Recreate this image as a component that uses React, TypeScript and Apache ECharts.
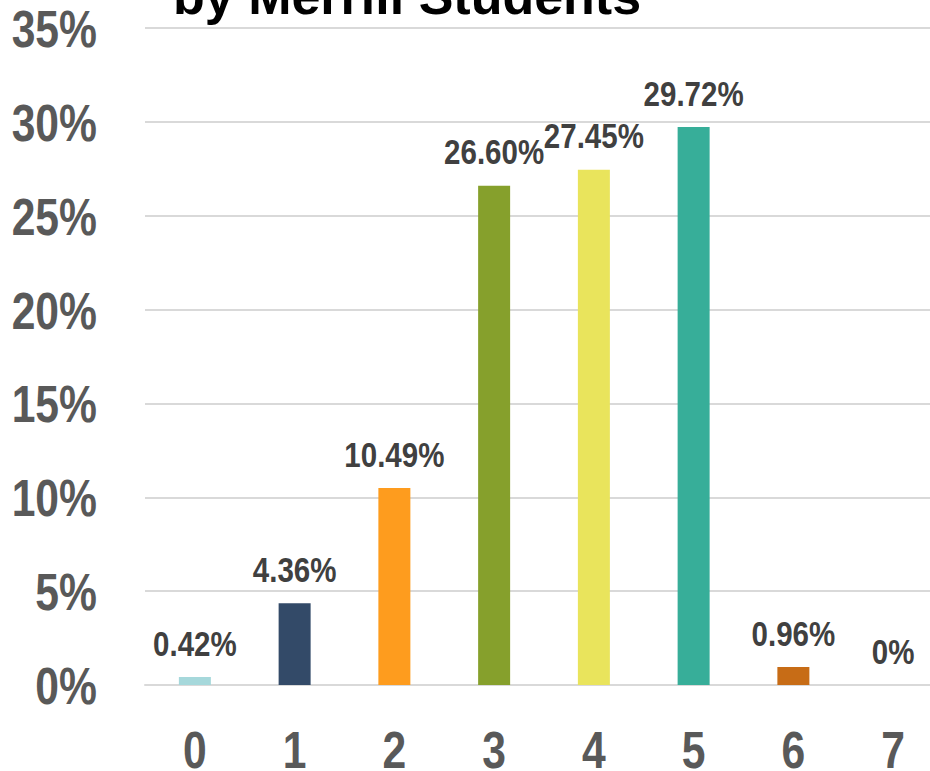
import React, { useEffect, useRef } from "react";
import * as echarts from "echarts";

// Number of courses taken and share of students
const categories = ["0", "1", "2", "3", "4", "5", "6", "7"];
const shares = [0.42, 4.36, 10.49, 26.6, 27.45, 29.72, 0.96, 0];
const barColors = [
  "#a6d8db",
  "#334a68",
  "#fe9c1e",
  "#86a02c",
  "#e9e45c",
  "#37ae99",
  "#c76c16",
  "#7f7f7f",
];
const yTicks = [0, 5, 10, 15, 20, 25, 30, 35];
const titleText = "by Merrill Students";

// Bold sans, squeezed horizontally to a narrow face
const boldFont = (size: number) => `bold ${size}px "Liberation Sans", Arial, sans-serif`;
const NARROW = 0.82;

const pct = (v: number) => (v === 0 ? "0%" : `${v.toFixed(2)}%`);

export default function App() {
  const ref = useRef<HTMLDivElement>(null);

  useEffect(() => {
    if (!ref.current) return;
    const chart = echarts.init(ref.current, undefined, { renderer: "svg" });
    chart.setOption({
      animation: false,
      backgroundColor: "#ffffff",
      grid: {
        left: 145,
        top: 28,
        width: 798,
        height: 657,
        containLabel: false,
        outerBoundsMode: "none",
      },
      graphic: [
        {
          type: "text",
          left: 173,
          top: -30,
          style: {
            text: titleText,
            fill: "#000000",
            font: boldFont(52),
          },
        },
      ],
      xAxis: {
        type: "category",
        data: categories,
        axisTick: { show: false },
        axisLine: { lineStyle: { color: "#d9d9d9", width: 2 } },
        axisLabel: { show: false },
      },
      yAxis: {
        type: "value",
        min: 0,
        max: 35,
        interval: 5,
        axisLine: { show: false },
        axisTick: { show: false },
        splitLine: { lineStyle: { color: "#d9d9d9", width: 2 } },
        axisLabel: { show: false },
      },
      series: [
        {
          type: "bar",
          barWidth: 32,
          data: shares.map((v, i) => ({ value: v, itemStyle: { color: barColors[i] } })),
        },
        {
          // value labels above the bars
          type: "custom",
          clip: false,
          z: 5,
          data: shares.map((v, i) => [i, v]),
          renderItem: (_params: any, api: any) => {
            const p = api.coord([api.value(0), api.value(1)]);
            return {
              type: "text",
              x: p[0],
              y: p[1] - 34,
              scaleX: NARROW,
              style: {
                text: pct(api.value(1)),
                font: boldFont(36),
                fill: "#404040",
                align: "center",
                verticalAlign: "middle",
              },
            };
          },
        },
        {
          // y tick labels
          type: "custom",
          clip: false,
          data: yTicks.map((v) => [0, v]),
          renderItem: (params: any, api: any) => {
            const p = api.coord([0, api.value(1)]);
            return {
              type: "text",
              x: params.coordSys.x - 48,
              y: p[1] + 1,
              scaleX: NARROW,
              style: {
                text: `${api.value(1)}%`,
                font: boldFont(52),
                fill: "#595959",
                align: "right",
                verticalAlign: "middle",
              },
            };
          },
        },
        {
          // category labels under the axis
          type: "custom",
          clip: false,
          data: categories.map((_c, i) => [i, 0]),
          renderItem: (_params: any, api: any) => {
            const p = api.coord([api.value(0), 0]);
            return {
              type: "text",
              x: p[0],
              y: p[1] + 65,
              scaleX: NARROW,
              style: {
                text: categories[api.value(0)],
                font: boldFont(52),
                fill: "#595959",
                align: "center",
                verticalAlign: "middle",
              },
            };
          },
        },
      ],
    });
    return () => chart.dispose();
  }, []);

  return <div ref={ref} style={{ width: 930, height: 771, position: "absolute", left: 0, top: 0 }} />;
}
